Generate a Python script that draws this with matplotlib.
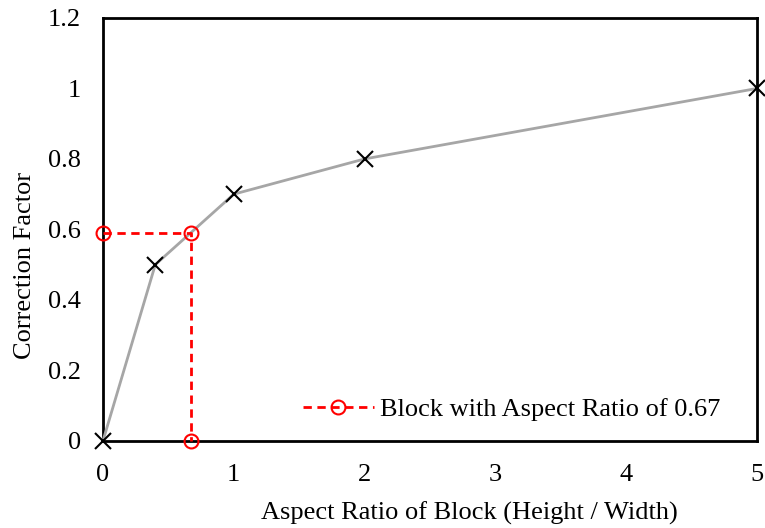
import matplotlib.pyplot as plt

plt.rcParams['font.family'] = ['Liberation Serif', 'DejaVu Serif']

# correction factor curve
ratio = [0, 0.4, 1, 2, 5]
factor = [0, 0.5, 0.7, 0.8, 1.0]

# example block, aspect ratio 0.67
block_x = [0, 0.67, 0.67]
block_y = [0.59, 0.59, 0]

fig = plt.figure(figsize=(7.65, 5.28), dpi=100)
ax = fig.add_axes([0.1346, 0.165, 0.855, 0.801])

ax.plot(ratio, factor, color='#a6a6a6', lw=2, marker='x', ms=11,
        mec='black', mew=1.5, zorder=3, clip_on=False)
ax.plot(block_x, block_y, color='red', ls='--', lw=2, dashes=(3, 2),
        marker='o', ms=10, mfc='none', mec='red', mew=1.5,
        label='Block with Aspect Ratio of 0.67', zorder=4, clip_on=False)

ax.set_xlim(0, 5)
ax.set_ylim(0, 1.2)
ax.set_xticks([0, 1, 2, 3, 4, 5])
ax.set_yticks([0, 0.2, 0.4, 0.6, 0.8, 1.0, 1.2])
ax.set_yticklabels(['0', '0.2', '0.4', '0.6', '0.8', '1', '1.2'])
ax.tick_params(length=0, labelsize=19)
ax.tick_params(axis='y', pad=16)
ax.tick_params(axis='x', pad=17)
for s in ax.spines.values():
    s.set_linewidth(2)

ax.set_xlabel('Aspect Ratio of Block (Height / Width)', fontsize=19)
ax.set_ylabel('Correction Factor', fontsize=19)
ax.xaxis.set_label_coords(0.56, -0.143)
ax.yaxis.set_label_coords(-0.102, 0.416)
ax.legend(loc='lower right', fontsize=19, frameon=False, handlelength=2.7,
          handletextpad=0.25, bbox_to_anchor=(0.981, -0.01))

fig.savefig('out.png')
